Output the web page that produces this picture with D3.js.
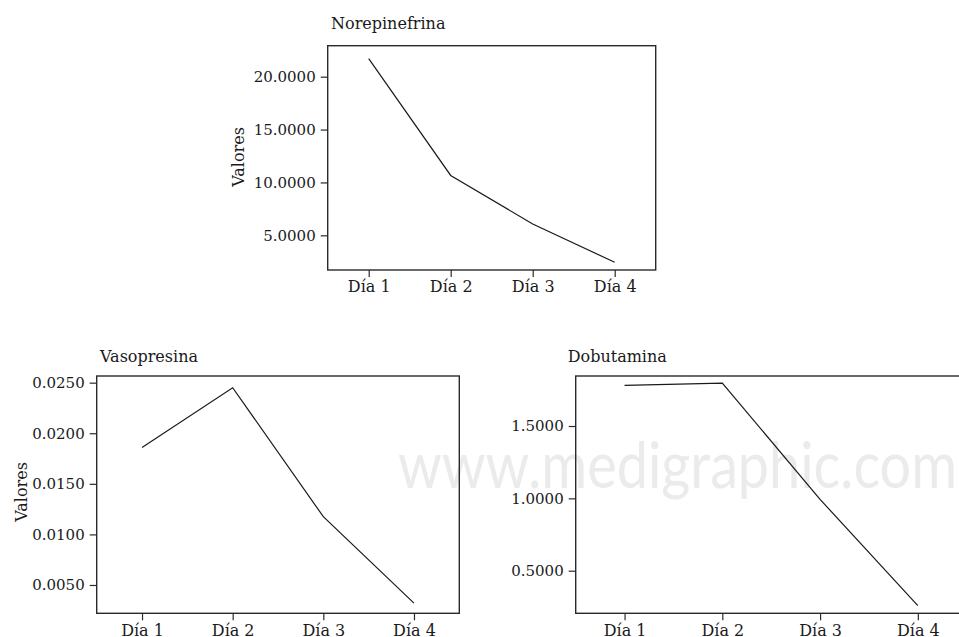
<!DOCTYPE html>
<html>
<head>
<meta charset="utf-8">
<script src="https://cdn.jsdelivr.net/npm/d3@7"></script>
<style>
  html, body { margin: 0; padding: 0; background: #fff; }
  svg { display: block; }
</style>
</head>
<body>
<svg id="chart" width="959" height="637"></svg>
<script>
// ---- data ----
const days = ["Día 1", "Día 2", "Día 3", "Día 4"];
const norepinefrina = [21.7, 10.66, 6.07, 2.45];
const vasopresina = [0.0186, 0.0245, 0.01175, 0.0032];
const dobutamina = [1.781, 1.797, 0.993, 0.258];
const norTicks = [5, 10, 15, 20];
const vasTicks = [0.005, 0.010, 0.015, 0.020, 0.025];
const dobTicks = [0.5, 1.0, 1.5];
const titles = ["Norepinefrina", "Vasopresina", "Dobutamina"];
const yTitle = "Valores";
const watermark = "www.medigraphic.com";

// ---- layout ----
const svg = d3.select("#chart");
const FONT = "'DejaVu Serif', serif";
const INK = "#1a1a1a";

svg.append("text")
  .attr("x", 398).attr("y", 488)
  .attr("font-family", "Lato, 'Open Sans', sans-serif")
  .attr("font-size", 64)
  .attr("fill", "#ebebeb")
  .attr("textLength", 559)
  .attr("lengthAdjust", "spacingAndGlyphs")
  .text(watermark);

const panels = [
  { title: titles[0], values: norepinefrina, ticks: norTicks, domain: [1.72, 22.93],
    x0: 327.7, x1: 655.7, y0: 45.7, y1: 270, titleX: 331, titleY: 29, ylab: { x: 244, y: 157 } },
  { title: titles[1], values: vasopresina, ticks: vasTicks, domain: [0.0022, 0.02566],
    x0: 96.7, x1: 459.3, y0: 376, y1: 613.3, titleX: 100, titleY: 362, ylab: { x: 27, y: 492 } },
  { title: titles[2], values: dobutamina, ticks: dobTicks, domain: [0.2056, 1.8456],
    x0: 575.7, x1: 966.7, y0: 376, y1: 613.3, titleX: 567.7, titleY: 362, ylab: null }
];

panels.forEach(p => {
  const g = svg.append("g");
  const x = d3.scalePoint().domain(days).range([p.x0, p.x1]).padding(0.5);
  const y = d3.scaleLinear().domain(p.domain).range([p.y1, p.y0]);

  // frame
  g.append("rect")
    .attr("x", p.x0).attr("y", p.y0)
    .attr("width", p.x1 - p.x0).attr("height", p.y1 - p.y0)
    .attr("fill", "none").attr("stroke", "#2a2a2a").attr("stroke-width", 1.4);

  // y axis
  const ya = g.append("g").attr("transform", `translate(${p.x0},0)`)
    .call(d3.axisLeft(y).tickValues(p.ticks).tickFormat(d3.format(".4f")).tickSize(7).tickPadding(5));
  ya.select(".domain").remove();
  ya.selectAll("line").attr("stroke", "#2a2a2a").attr("stroke-width", 1.2);
  ya.selectAll("text").attr("font-family", FONT).attr("font-size", 15).attr("fill", INK);

  // x axis
  const xa = g.append("g").attr("transform", `translate(0,${p.y1})`)
    .call(d3.axisBottom(x).tickSize(7).tickPadding(4));
  xa.select(".domain").remove();
  xa.selectAll("line").attr("stroke", "#2a2a2a").attr("stroke-width", 1.2);
  xa.selectAll("text").attr("font-family", FONT).attr("font-size", 16).attr("fill", INK);

  // line
  const line = d3.line().x((d, i) => x(days[i])).y(d => y(d));
  g.append("path").datum(p.values)
    .attr("d", line).attr("fill", "none")
    .attr("stroke", INK).attr("stroke-width", 1.2);

  // title
  g.append("text").attr("x", p.titleX).attr("y", p.titleY)
    .attr("font-family", FONT).attr("font-size", 16).attr("fill", INK)
    .text(p.title);

  if (p.ylab) {
    g.append("text")
      .attr("transform", `translate(${p.ylab.x},${p.ylab.y}) rotate(-90)`)
      .attr("text-anchor", "middle")
      .attr("font-family", FONT).attr("font-size", 16).attr("fill", INK)
      .text(yTitle);
  }
});
</script>
</body>
</html>
